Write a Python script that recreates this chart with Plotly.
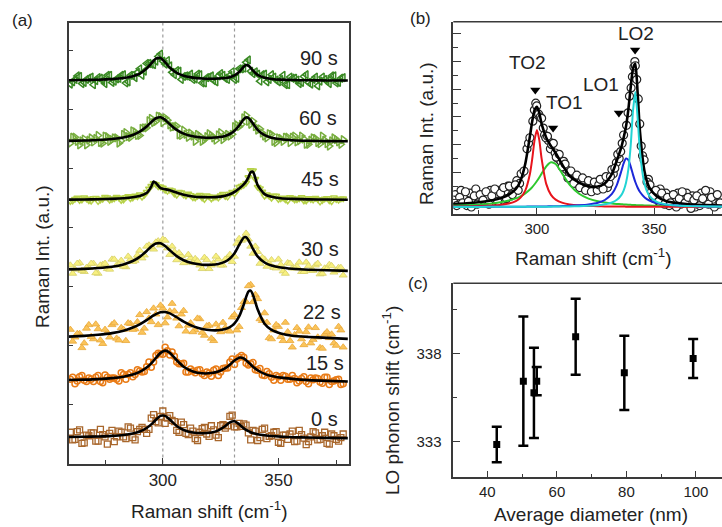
import plotly.graph_objects as go

W, H = 722, 527
FONT = "Liberation Sans, Arial, Helvetica, sans-serif"
INK = "#222222"
FRAME = "#3a3a3a"

# ---------------- panel (a) data ----------------
A_FIT_X = [259, 266, 272, 278, 283, 287, 290, 293, 295, 296, 297, 299, 301, 303, 306, 309, 313,
           317, 321, 324, 327, 329, 331, 333, 335, 336, 337, 338, 339, 341, 344, 347, 351, 356,
           363, 371, 380]
A_FIT_0S = [0.449, 0.453, 0.458, 0.468, 0.484, 0.509, 0.542, 0.602, 0.663, 0.701, 0.742, 0.807,
            0.807, 0.745, 0.636, 0.568, 0.525, 0.513, 0.525, 0.561, 0.635, 0.698, 0.715, 0.664,
            0.596, 0.570, 0.549, 0.531, 0.517, 0.497, 0.479, 0.466, 0.455, 0.446, 0.440, 0.435, 0.430]
A_FIT_15S = [1.416, 1.422, 1.431, 1.447, 1.472, 1.507, 1.552, 1.626, 1.698, 1.742, 1.788, 1.875,
             1.914, 1.878, 1.750, 1.641, 1.561, 1.529, 1.533, 1.558, 1.616, 1.675, 1.746, 1.794,
             1.781, 1.752, 1.716, 1.678, 1.641, 1.581, 1.520, 1.483, 1.456, 1.434, 1.413, 1.400, 1.390]
A_FIT_22S = [2.151, 2.163, 2.181, 2.210, 2.251, 2.304, 2.360, 2.431, 2.484, 2.509, 2.531, 2.562,
             2.567, 2.545, 2.479, 2.406, 2.329, 2.281, 2.259, 2.259, 2.280, 2.312, 2.375, 2.493,
             2.696, 2.819, 2.913, 2.930, 2.858, 2.614, 2.370, 2.265, 2.205, 2.165, 2.145, 2.130, 2.113]
A_FIT_30S = [3.290, 3.299, 3.313, 3.336, 3.375, 3.432, 3.502, 3.603, 3.677, 3.707, 3.728, 3.732,
             3.686, 3.615, 3.515, 3.446, 3.394, 3.370, 3.368, 3.382, 3.421, 3.474, 3.565, 3.705,
             3.831, 3.836, 3.790, 3.716, 3.637, 3.510, 3.407, 3.356, 3.323, 3.302, 3.285, 3.275, 3.265]
A_FIT_45S = [4.473, 4.476, 4.479, 4.486, 4.497, 4.513, 4.535, 4.585, 4.694, 4.781, 4.754, 4.666,
             4.649, 4.631, 4.592, 4.557, 4.527, 4.515, 4.513, 4.519, 4.538, 4.563, 4.604, 4.662,
             4.733, 4.780, 4.850, 4.936, 4.944, 4.720, 4.566, 4.520, 4.496, 4.485, 4.477, 4.474, 4.471]
A_FIT_60S = [5.468, 5.474, 5.483, 5.499, 5.526, 5.568, 5.624, 5.712, 5.787, 5.823, 5.851, 5.868,
             5.824, 5.751, 5.654, 5.591, 5.546, 5.526, 5.522, 5.530, 5.553, 5.585, 5.640, 5.730,
             5.838, 5.866, 5.858, 5.817, 5.761, 5.656, 5.565, 5.522, 5.495, 5.480, 5.470, 5.464, 5.461]
A_FIT_90S = [6.496, 6.500, 6.505, 6.516, 6.534, 6.565, 6.610, 6.696, 6.781, 6.826, 6.862, 6.872,
             6.800, 6.712, 6.621, 6.572, 6.541, 6.527, 6.522, 6.525, 6.534, 6.549, 6.578, 6.635,
             6.725, 6.754, 6.746, 6.705, 6.658, 6.587, 6.538, 6.518, 6.506, 6.500, 6.495, 6.493, 6.491]

# measured points, even channels
A_SCAT_X = [260, 262, 264, 266, 268, 270, 272, 274, 276, 278, 280, 282, 284, 286, 288, 290, 292,
            294, 296, 298, 300, 302, 304, 306, 308, 310, 312, 314, 316, 318, 320, 322, 324, 326,
            328, 330, 332, 334, 336, 338, 340, 342, 344, 346, 348, 350, 352, 354, 356, 358, 360,
            362, 364, 366, 368, 370, 372, 374, 376, 378]
A_SCAT_0S = [0.53, 0.41, 0.57, 0.35, 0.47, 0.52, 0.38, 0.49, 0.33, 0.56, 0.45, 0.53, 0.42, 0.60,
             0.40, 0.58, 0.58, 0.58, 0.83, 0.69, 0.89, 0.77, 0.73, 0.56, 0.70, 0.51, 0.60, 0.42,
             0.53, 0.61, 0.46, 0.57, 0.44, 0.66, 0.64, 0.82, 0.62, 0.63, 0.65, 0.40, 0.55, 0.44,
             0.60, 0.46, 0.53, 0.36, 0.48, 0.41, 0.55, 0.38, 0.49, 0.32, 0.45, 0.52, 0.41, 0.53,
             0.33, 0.47, 0.38, 0.50]
A_SCAT_15S = [1.43, 1.35, 1.47, 1.41, 1.45, 1.39, 1.49, 1.37, 1.46, 1.45, 1.43, 1.54, 1.43, 1.54,
              1.51, 1.57, 1.56, 1.72, 1.72, 1.87, 1.85, 1.91, 1.89, 1.72, 1.69, 1.55, 1.60, 1.54,
              1.59, 1.49, 1.53, 1.58, 1.49, 1.61, 1.62, 1.77, 1.77, 1.83, 1.70, 1.69, 1.59, 1.61,
              1.49, 1.52, 1.41, 1.47, 1.49, 1.43, 1.49, 1.37, 1.44, 1.39, 1.45, 1.45, 1.38, 1.46,
              1.34, 1.40, 1.43, 1.35]
A_SCAT_22S = [2.27, 2.14, 2.20, 2.04, 2.35, 2.11, 2.28, 2.03, 2.22, 2.35, 2.12, 2.30, 2.08, 2.37,
              2.28, 2.52, 2.29, 2.46, 2.63, 2.35, 2.63, 2.48, 2.71, 2.46, 2.53, 2.24, 2.38, 2.26,
              2.45, 2.17, 2.34, 2.08, 2.28, 2.39, 2.25, 2.48, 2.26, 2.64, 2.74, 3.03, 2.86, 2.45,
              2.55, 2.13, 2.26, 2.32, 2.08, 2.23, 1.97, 2.30, 2.11, 2.23, 2.04, 2.30, 1.96, 2.19,
              2.13, 2.04, 2.32, 1.97]
A_SCAT_30S = [3.36, 3.29, 3.40, 3.25, 3.32, 3.39, 3.22, 3.37, 3.30, 3.46, 3.36, 3.44, 3.33, 3.46,
              3.44, 3.61, 3.53, 3.70, 3.63, 3.77, 3.80, 3.65, 3.68, 3.45, 3.52, 3.41, 3.48, 3.47,
              3.36, 3.49, 3.30, 3.40, 3.46, 3.36, 3.49, 3.42, 3.73, 3.78, 3.90, 3.68, 3.68, 3.39,
              3.46, 3.39, 3.32, 3.46, 3.26, 3.40, 3.31, 3.34, 3.25, 3.41, 3.27, 3.36, 3.21, 3.31,
              3.37, 3.24, 3.32, 3.19]
A_SCAT_45S = [4.445, 4.482, 4.463, 4.508, 4.457, 4.494, 4.443, 4.485, 4.507, 4.478, 4.518, 4.462,
              4.512, 4.491, 4.539, 4.559, 4.551, 4.659, 4.749, 4.696, 4.675, 4.617, 4.626, 4.552,
              4.595, 4.539, 4.548, 4.505, 4.550, 4.478, 4.525, 4.514, 4.503, 4.570, 4.520, 4.604,
              4.628, 4.705, 4.756, 4.972, 4.822, 4.663, 4.534, 4.534, 4.540, 4.480, 4.506, 4.454,
              4.501, 4.474, 4.512, 4.454, 4.477, 4.500, 4.435, 4.486, 4.457, 4.508, 4.468, 4.491]
A_SCAT_60S = [5.43, 5.53, 5.40, 5.50, 5.48, 5.45, 5.56, 5.43, 5.54, 5.49, 5.52, 5.47, 5.61, 5.53,
              5.62, 5.56, 5.69, 5.81, 5.78, 5.89, 5.78, 5.82, 5.70, 5.72, 5.56, 5.58, 5.60, 5.46,
              5.55, 5.49, 5.59, 5.52, 5.57, 5.49, 5.58, 5.58, 5.74, 5.75, 5.90, 5.75, 5.71, 5.67,
              5.55, 5.59, 5.46, 5.52, 5.46, 5.53, 5.53, 5.45, 5.55, 5.41, 5.48, 5.51, 5.42, 5.48,
              5.38, 5.52, 5.45, 5.49]
A_SCAT_90S = [6.43, 6.51, 6.56, 6.46, 6.53, 6.42, 6.54, 6.49, 6.58, 6.46, 6.52, 6.58, 6.45, 6.58,
              6.54, 6.69, 6.65, 6.78, 6.76, 6.90, 6.82, 6.83, 6.63, 6.66, 6.51, 6.57, 6.60, 6.52,
              6.59, 6.45, 6.55, 6.49, 6.57, 6.58, 6.51, 6.64, 6.53, 6.69, 6.80, 6.65, 6.64, 6.48,
              6.60, 6.51, 6.55, 6.47, 6.58, 6.42, 6.53, 6.50, 6.46, 6.59, 6.43, 6.55, 6.48, 6.51,
              6.44, 6.57, 6.46, 6.54]

# measured points, odd channels
A_SCAT_X_ODD = [261, 263, 265, 267, 269, 271, 273, 275, 277, 279, 281, 283, 285, 287, 289, 291,
                293, 295, 297, 299, 301, 303, 305, 307, 309, 311, 313, 315, 317, 319, 321, 323,
                325, 327, 329, 331, 333, 335, 337, 339, 341, 343, 345, 347, 349, 351, 353, 355,
                357, 359, 361, 363, 365, 367, 369, 371, 373, 375, 377]
A_SCAT_0S_ODD = [0.40, 0.54, 0.34, 0.48, 0.52, 0.38, 0.58, 0.45, 0.51, 0.37, 0.55, 0.45, 0.62,
                 0.44, 0.54, 0.61, 0.51, 0.77, 0.71, 0.80, 0.68, 0.81, 0.71, 0.53, 0.66, 0.49,
                 0.55, 0.39, 0.59, 0.50, 0.64, 0.48, 0.64, 0.60, 0.80, 0.62, 0.68, 0.67, 0.52,
                 0.56, 0.39, 0.58, 0.42, 0.47, 0.54, 0.34, 0.48, 0.50, 0.37, 0.56, 0.43, 0.37,
                 0.54, 0.40, 0.47, 0.34, 0.50, 0.41, 0.44]
A_SCAT_15S_ODD = [1.46, 1.40, 1.49, 1.39, 1.43, 1.46, 1.39, 1.50, 1.43, 1.45, 1.40, 1.51, 1.51,
                  1.47, 1.59, 1.55, 1.64, 1.63, 1.83, 1.86, 1.97, 1.84, 1.82, 1.69, 1.70, 1.55,
                  1.57, 1.58, 1.52, 1.55, 1.48, 1.60, 1.55, 1.62, 1.72, 1.68, 1.80, 1.80, 1.67,
                  1.71, 1.58, 1.50, 1.56, 1.46, 1.49, 1.41, 1.48, 1.43, 1.44, 1.40, 1.47, 1.35,
                  1.42, 1.44, 1.36, 1.46, 1.39, 1.42, 1.34]
A_SCAT_22S_ODD = [2.07, 2.20, 1.96, 2.29, 2.15, 2.36, 2.09, 2.27, 2.14, 2.38, 2.09, 2.27, 2.38,
                  2.27, 2.40, 2.22, 2.57, 2.40, 2.53, 2.68, 2.38, 2.58, 2.58, 2.33, 2.59, 2.34,
                  2.23, 2.46, 2.22, 2.33, 2.12, 2.36, 2.23, 2.30, 2.24, 2.52, 2.32, 2.74, 3.01,
                  2.74, 2.79, 2.42, 2.39, 2.11, 2.35, 2.15, 2.39, 2.08, 2.18, 2.24, 2.01, 2.31,
                  2.10, 2.14, 1.95, 2.23, 2.19, 2.00, 2.26]
A_SCAT_30S_ODD = [3.22, 3.39, 3.27, 3.32, 3.39, 3.23, 3.36, 3.39, 3.29, 3.46, 3.37, 3.34, 3.51,
                  3.42, 3.53, 3.48, 3.68, 3.67, 3.75, 3.70, 3.78, 3.54, 3.59, 3.57, 3.40, 3.54,
                  3.40, 3.43, 3.30, 3.45, 3.36, 3.51, 3.36, 3.46, 3.54, 3.51, 3.81, 3.81, 3.80,
                  3.56, 3.59, 3.49, 3.34, 3.45, 3.31, 3.37, 3.22, 3.39, 3.31, 3.41, 3.25, 3.35,
                  3.27, 3.39, 3.22, 3.30, 3.35, 3.27, 3.32]
A_SCAT_45S_ODD = [4.452, 4.506, 4.471, 4.487, 4.449, 4.499, 4.469, 4.517, 4.466, 4.492, 4.506,
                  4.472, 4.531, 4.506, 4.527, 4.517, 4.603, 4.705, 4.733, 4.691, 4.635, 4.638,
                  4.570, 4.601, 4.553, 4.572, 4.509, 4.535, 4.504, 4.541, 4.488, 4.520, 4.542,
                  4.531, 4.574, 4.576, 4.687, 4.719, 4.850, 4.965, 4.688, 4.607, 4.560, 4.499,
                  4.537, 4.493, 4.474, 4.515, 4.472, 4.492, 4.454, 4.495, 4.469, 4.479, 4.460,
                  4.498, 4.440, 4.479, 4.489]
A_SCAT_60S_ODD = [5.53, 5.46, 5.47, 5.40, 5.52, 5.51, 5.44, 5.55, 5.46, 5.52, 5.43, 5.58, 5.54,
                  5.64, 5.56, 5.68, 5.69, 5.85, 5.80, 5.88, 5.86, 5.74, 5.71, 5.57, 5.65, 5.53,
                  5.55, 5.58, 5.46, 5.54, 5.56, 5.48, 5.61, 5.55, 5.55, 5.71, 5.71, 5.86, 5.80,
                  5.80, 5.65, 5.60, 5.52, 5.58, 5.44, 5.51, 5.53, 5.44, 5.55, 5.47, 5.50, 5.41,
                  5.52, 5.44, 5.55, 5.42, 5.47, 5.49, 5.41]
A_SCAT_90S_ODD = [6.47, 6.57, 6.44, 6.51, 6.55, 6.49, 6.53, 6.44, 6.58, 6.48, 6.53, 6.59, 6.47,
                  6.58, 6.63, 6.58, 6.78, 6.77, 6.82, 6.94, 6.77, 6.74, 6.59, 6.65, 6.56, 6.56,
                  6.51, 6.60, 6.45, 6.54, 6.57, 6.47, 6.61, 6.53, 6.58, 6.51, 6.69, 6.70, 6.84,
                  6.61, 6.60, 6.59, 6.47, 6.59, 6.50, 6.51, 6.42, 6.55, 6.53, 6.44, 6.56, 6.46,
                  6.51, 6.40, 6.55, 6.48, 6.57, 6.45, 6.53]
A_LABELS = ["0 s", "15 s", "22 s", "30 s", "45 s", "60 s", "90 s"]
A_REF_SHIFTS = [300, 331]

# ---------------- panel (b) data ----------------
B_FIT_X = [264, 270, 276, 281, 285, 288, 291, 293, 295, 297, 298, 299, 300, 301, 302, 304, 306,
           308, 311, 314, 318, 322, 326, 329, 332, 334, 336, 337, 338, 339, 340, 341, 342, 343,
           344, 346, 348, 351, 355, 360, 366, 372, 380]
B_TOTAL = [0.10, 0.13, 0.18, 0.24, 0.33, 0.45, 0.65, 0.95, 1.55, 2.55, 3.10, 3.50, 3.62, 3.40,
           3.00, 2.50, 2.20, 1.95, 1.50, 1.12, 0.88, 0.75, 0.74, 0.86, 1.20, 1.65, 2.15, 2.50,
           2.90, 3.50, 4.30, 5.00, 5.18, 4.10, 2.70, 1.25, 0.70, 0.40, 0.22, 0.14, 0.09, 0.07, 0.05]
B_TO2 = [0.014, 0.021, 0.032, 0.051, 0.081, 0.125, 0.214, 0.337, 0.592, 1.193, 1.746, 2.421, 2.780,
         2.421, 1.746, 0.825, 0.439, 0.266, 0.147, 0.093, 0.057, 0.038, 0.028, 0.022, 0.018, 0.016,
         0.014, 0.014, 0.013, 0.012, 0.012, 0.011, 0.011, 0.010, 0.010, 0.009, 0.008, 0.007, 0.006,
         0.005, 0.004, 0.004, 0.003]
B_TO1 = [0.049, 0.066, 0.093, 0.130, 0.177, 0.231, 0.310, 0.387, 0.489, 0.630, 0.719, 0.821, 0.937,
         1.067, 1.205, 1.470, 1.615, 1.549, 1.177, 0.799, 0.478, 0.304, 0.207, 0.161, 0.128, 0.112,
         0.098, 0.092, 0.086, 0.081, 0.077, 0.073, 0.069, 0.065, 0.062, 0.056, 0.051, 0.045, 0.038,
         0.031, 0.025, 0.021, 0.017]
B_LO1 = [0.005, 0.005, 0.007, 0.008, 0.009, 0.010, 0.011, 0.012, 0.013, 0.015, 0.016, 0.016, 0.017,
         0.018, 0.019, 0.021, 0.024, 0.027, 0.034, 0.042, 0.060, 0.091, 0.153, 0.252, 0.470, 0.772,
         1.288, 1.575, 1.749, 1.702, 1.467, 1.170, 0.903, 0.696, 0.542, 0.345, 0.234, 0.145, 0.087,
         0.052, 0.033, 0.022, 0.015]
B_LO2 = [0.003, 0.003, 0.004, 0.005, 0.005, 0.006, 0.006, 0.007, 0.008, 0.008, 0.009, 0.009, 0.010,
         0.010, 0.010, 0.012, 0.013, 0.014, 0.017, 0.021, 0.029, 0.042, 0.065, 0.098, 0.163, 0.250,
         0.429, 0.594, 0.866, 1.340, 2.187, 3.460, 4.150, 3.194, 1.979, 0.800, 0.404, 0.192, 0.095,
         0.050, 0.028, 0.018, 0.011]
B_SCAT_X = [264.5, 265.75, 267, 268.25, 269.5, 270.75, 272, 273.25, 274.5, 275.75, 277, 278.25,
            279.5, 280.75, 282, 283.25, 284.5, 285.75, 287, 288.25, 289.5, 290.75, 292, 293.25,
            294.5, 295.75, 296.4, 297, 298.25, 298.9, 299.5, 299.9, 300.75, 301.4, 302, 302.7,
            303.25, 303.8, 304.5, 305.75, 306.3, 307, 307.8, 308.25, 309.5, 310.75, 311.4, 312,
            313.25, 313.8, 314.5, 315.75, 317, 318.25, 319.5, 320.75, 322, 323.25, 324.5, 325.75,
            326.4, 327, 328.25, 329.5, 330.75, 331.4, 332, 333.25, 334.5, 335.75, 336.4, 337,
            338.25, 338.9, 339.5, 340.2, 340.75, 341.4, 341.8, 342, 342.6, 343.25, 343.9, 344.5,
            345.1, 345.75, 347, 348.25, 349.5, 350.75, 352, 353.25, 354.5, 355.75, 357, 358.25,
            359.5, 360.75, 362, 363.25, 364.5, 365.75, 367, 368.25, 369.5, 370.75, 372, 373.25,
            374.5, 375.75, 377, 378.25]
B_SCAT_Y = [0.25, 0.05, 0.35, 0.15, 0.55, 0.20, 0.00, 0.40, 0.10, 0.45, 0.25, 0.55,
            0.10, 0.40, 0.65, 0.20, 0.50, 0.70, 0.30, 0.75, 0.45, 0.80, 0.60, 1.20,
            1.30, 2.10, 2.30, 2.50, 3.10, 3.50, 3.75, 3.65, 3.35, 3.25, 3.20, 2.85,
            2.60, 2.50, 2.55, 2.10, 2.25, 2.30, 1.95, 1.80, 1.90, 1.45, 1.65, 1.55,
            1.05, 1.25, 1.30, 0.85, 1.15, 0.70, 1.05, 0.60, 0.95, 0.55, 0.90, 0.60,
            0.80, 1.00, 0.65, 1.10, 0.85, 1.10, 1.35, 1.40, 1.90, 2.00, 2.30, 2.60,
            2.95, 3.40, 4.00, 4.30, 4.70, 5.05, 5.25, 5.10, 4.60, 3.90, 3.00, 2.20,
            1.85, 1.70, 0.90, 0.80, 0.40, 0.60, 0.20, 0.50, 0.10, 0.35, 0.15, 0.45,
            0.00, 0.30, 0.55, 0.15, 0.35, -0.05, 0.25, 0.40, 0.05, 0.30, 0.60, 0.10,
            0.35, 0.00, 0.45, 0.15]
B_SCAT2_X = [265.1, 266.4, 267.6, 268.9, 270.1, 271.4, 272.6, 273.9, 275.1, 276.4, 277.6, 278.9,
             280.1, 281.4, 282.6, 283.9, 285.1, 286.4, 287.6, 288.9, 290.1, 291.4, 292.6, 304.9,
             309.0, 310.2, 312.6, 315.1, 316.4, 317.6, 318.9, 320.1, 321.4, 323.9, 328.9, 330.1,
             332.6, 333.9, 335.1, 347.6, 348.9, 350.1, 351.4, 352.6, 353.9, 355.1, 356.4, 357.6,
             358.9, 360.1, 361.4, 362.6, 363.9, 365.1, 366.4, 367.6, 368.9, 370.1, 371.4, 372.6,
             373.9, 375.1, 376.4, 377.6]
B_SCAT2_Y = [0.45, 0.20, 0.60, 0.30, 0.05, 0.50, 0.25, 0.65, 0.30, 0.15, 0.40, 0.30,
             0.60, 0.15, 0.45, 0.60, 0.25, 0.55, 0.75, 0.40, 0.60, 0.95, 0.85, 2.40,
             1.75, 1.65, 1.35, 1.10, 1.00, 0.95, 0.95, 0.85, 0.75, 0.80, 0.90, 0.70,
             1.20, 1.60, 1.75, 1.00, 0.55, 0.30, 0.45, 0.65, 0.25, 0.50, 0.05, 0.35,
             0.20, 0.50, 0.10, 0.30, 0.50, 0.20, 0.40, 0.00, 0.30, 0.50, 0.15, 0.30,
             0.55, 0.20, 0.40, 0.10]
B_PEAK_NAMES = ["TO2", "TO1", "LO1", "LO2"]
B_PEAK_X = [299.3, 306.9, 335.0, 341.9]
B_PEAK_Y = [4.22, 2.85, 3.39, 5.67]

# ---------------- panel (c) data ----------------
C_DIAMETER = [42.7, 50.35, 53.4, 54.2, 65.4, 79.4, 99.2]
C_LO_SHIFT = [332.85, 336.43, 335.77, 336.43, 338.94, 336.90, 337.71]
C_ERROR = [1.0, 3.65, 2.55, 0.8, 2.15, 2.1, 1.1]

# ---------------- figure ----------------
fig = go.Figure()

series_a = [
    (A_SCAT_0S, A_SCAT_0S_ODD, A_FIT_0S,
     dict(symbol="square-open", color="#a9672c", size=6, line=dict(width=1.3))),
    (A_SCAT_15S, A_SCAT_15S_ODD, A_FIT_15S,
     dict(symbol="circle-open", color="#e97b16", size=6, line=dict(width=1.5))),
    (A_SCAT_22S, A_SCAT_22S_ODD, A_FIT_22S,
     dict(symbol="triangle-up", color="#fbc45a", size=7, line=dict(width=0.8, color="#e8a838"))),
    (A_SCAT_30S, A_SCAT_30S_ODD, A_FIT_30S,
     dict(symbol="triangle-up", color="#f8f07e", size=7, line=dict(width=0.8, color="#d6cf6a"))),
    (A_SCAT_45S, A_SCAT_45S_ODD, A_FIT_45S,
     dict(symbol="triangle-down-open", color="#b7d24a", size=6, line=dict(width=1.5))),
    (A_SCAT_60S, A_SCAT_60S_ODD, A_FIT_60S,
     dict(symbol="triangle-right-open", color="#77ad3e", size=7, line=dict(width=1.5))),
    (A_SCAT_90S, A_SCAT_90S_ODD, A_FIT_90S,
     dict(symbol="triangle-left-open", color="#3a8a24", size=7, line=dict(width=1.5))),
]
for even, odd, fit, mk in series_a:
    fig.add_trace(go.Scatter(x=A_SCAT_X, y=even, mode="markers", marker=mk,
                             xaxis="x", yaxis="y", hoverinfo="skip"))
    fig.add_trace(go.Scatter(x=A_SCAT_X_ODD, y=odd, mode="markers", marker=mk,
                             xaxis="x", yaxis="y", hoverinfo="skip"))
for even, odd, fit, mk in series_a:
    fig.add_trace(go.Scatter(x=A_FIT_X, y=fit, mode="lines",
                             line=dict(color="black", width=2.6, shape="spline", smoothing=0.6),
                             xaxis="x", yaxis="y", hoverinfo="skip"))

# panel b
circ = dict(symbol="circle", size=8, color="white", line=dict(color="#222", width=1.2))
fig.add_trace(go.Scatter(x=B_SCAT2_X, y=B_SCAT2_Y, mode="markers", marker=circ,
                         xaxis="x2", yaxis="y2", hoverinfo="skip"))
fig.add_trace(go.Scatter(x=B_SCAT_X, y=B_SCAT_Y, mode="markers", marker=circ,
                         xaxis="x2", yaxis="y2", hoverinfo="skip"))
fig.add_trace(go.Scatter(x=B_FIT_X, y=B_TOTAL, mode="lines",
                         line=dict(color="black", width=2.6, shape="spline", smoothing=0.6),
                         xaxis="x2", yaxis="y2", hoverinfo="skip"))
for comp, col in [(B_TO1, "#2ec82e"), (B_TO2, "#e8141c"), (B_LO1, "#1c28d8"), (B_LO2, "#22d4d4")]:
    fig.add_trace(go.Scatter(x=B_FIT_X, y=comp, mode="lines",
                             line=dict(color=col, width=2, shape="spline", smoothing=0.6),
                             xaxis="x2", yaxis="y2", hoverinfo="skip"))
fig.add_trace(go.Scatter(x=B_PEAK_X, y=B_PEAK_Y, mode="markers",
                         marker=dict(symbol="triangle-down", size=9, color="black"),
                         xaxis="x2", yaxis="y2", hoverinfo="skip"))

# panel c
fig.add_trace(go.Scatter(x=C_DIAMETER, y=C_LO_SHIFT, mode="markers",
                         marker=dict(symbol="square", size=7, color="black"),
                         error_y=dict(type="data", array=C_ERROR, visible=True,
                                      color="black", thickness=2.5, width=5),
                         xaxis="x3", yaxis="y3", hoverinfo="skip"))

tickfont_a = dict(family=FONT, size=17, color=INK)
tickfont_b = dict(family=FONT, size=15, color=INK)
common = dict(showline=True, linecolor=FRAME, linewidth=1.5, ticks="inside", tickcolor=FRAME,
              tickwidth=1.2, showgrid=False, zeroline=False)

fig.update_layout(
    width=W, height=H, margin=dict(l=0, r=0, t=0, b=0),
    paper_bgcolor="white", plot_bgcolor="white", showlegend=False,
    font=dict(family=FONT, color=INK, size=15),
    xaxis=dict(common, domain=[68.5 / W, 348.5 / W], range=[259.2, 380.3], anchor="y",
               tick0=0, dtick=50, ticklen=6, mirror=True, tickfont=tickfont_a,
               minor=dict(tick0=0, dtick=25, ticks="inside", ticklen=4, tickcolor=FRAME)),
    yaxis=dict(common, domain=[1 - 463.5 / H, 1 - 22.5 / H], range=[0, 7.475], anchor="x",
               tick0=0, dtick=1, ticklen=5, mirror=True, showticklabels=False,
               tickfont=tickfont_a),
    xaxis2=dict(common, domain=[453.3 / W, 1.0], range=[264.3, 379.0], anchor="y2",
                tick0=0, dtick=50, ticklen=6, tickfont=tickfont_b,
                minor=dict(tick0=0, dtick=25, ticks="inside", ticklen=4, tickcolor=FRAME)),
    yaxis2=dict(common, domain=[1 - 214 / H, 1 - 21.7 / H], range=[-0.253, 6.69], anchor="x2",
                tick0=0.253, dtick=1, ticklen=8, showticklabels=False, tickfont=tickfont_b,
                minor=dict(tick0=0.253, dtick=0.5, ticks="inside", ticklen=5, tickcolor=FRAME)),
    xaxis3=dict(common, domain=[453.3 / W, 1.0], range=[30.2, 107.5], anchor="y3",
                tick0=0, dtick=20, ticklen=7, tickfont=tickfont_b,
                minor=dict(tick0=0, dtick=10, ticks="inside", ticklen=4, tickcolor=FRAME)),
    yaxis3=dict(common, domain=[1 - 477.3 / H, 1 - 283.3 / H], range=[331.0, 341.96], anchor="x3",
                tick0=333, dtick=5, ticklen=7, tickfont=tickfont_b, ticklabelstandoff=7,
                minor=dict(tick0=333, dtick=2.5, ticks="inside", ticklen=4, tickcolor=FRAME)),
)

shapes = []
for xv in A_REF_SHIFTS:
    shapes.append(dict(type="line", xref="x", yref="y domain", x0=xv, x1=xv, y0=0, y1=1,
                       line=dict(color="#9a9a9a", width=1.2, dash="dot"), layer="below"))
for ax, yax in [("x2", "y2"), ("x3", "y3")]:
    shapes.append(dict(type="line", xref=ax + " domain", yref=yax + " domain",
                       x0=0, x1=1, y0=1, y1=1, line=dict(color=FRAME, width=1.5)))
fig.update_layout(shapes=shapes)


def P(xp, yp):
    return xp / W, 1 - yp / H


ann = []


def add_text(text, xp, yp, size, angle=0, xanchor="center"):
    x, y = P(xp, yp)
    ann.append(dict(text=text, x=x, y=y, xref="paper", yref="paper", showarrow=False,
                    xanchor=xanchor, yanchor="middle", textangle=angle,
                    font=dict(family=FONT, size=size, color=INK)))


# panel letters
add_text("(a)", 22, 21, 17)
add_text("(b)", 420, 19, 17)
add_text("(c)", 418, 283, 17)
# axis titles
add_text("Raman shift (cm<sup>-1</sup>)", 208.5, 510, 19)
add_text("Raman Int. (a.u.)", 42, 257, 19, angle=-90)
add_text("Raman shift (cm<sup>-1</sup>)", 593, 257, 19)
add_text("Raman Int. (a.u.)", 426, 134, 19, angle=-90)
add_text("Average diameter (nm)", 590.5, 514, 19)
add_text("LO phonon shift (cm<sup>-1</sup>)", 391, 401, 19, angle=-90)

# spectrum labels in (a)
label_pos = [(340, 419), (346, 363), (343, 312), (341, 249), (341, 179), (339, 118), (340, 58)]
for lab, (xp, yp) in zip(A_LABELS, label_pos):
    add_text(lab, xp, yp, 20, xanchor="right")

# peak names in (b)
peak_label_pos = [(295.9, 5.2), (311.6, 3.79), (327.4, 4.44), (342.3, 6.25)]
for name, (xv, yv) in zip(B_PEAK_NAMES, peak_label_pos):
    ann.append(dict(text=name, x=xv, y=yv, xref="x2", yref="y2", showarrow=False,
                    font=dict(family=FONT, size=19, color=INK)))

fig.update_layout(annotations=ann)
fig.write_html("out.html")
